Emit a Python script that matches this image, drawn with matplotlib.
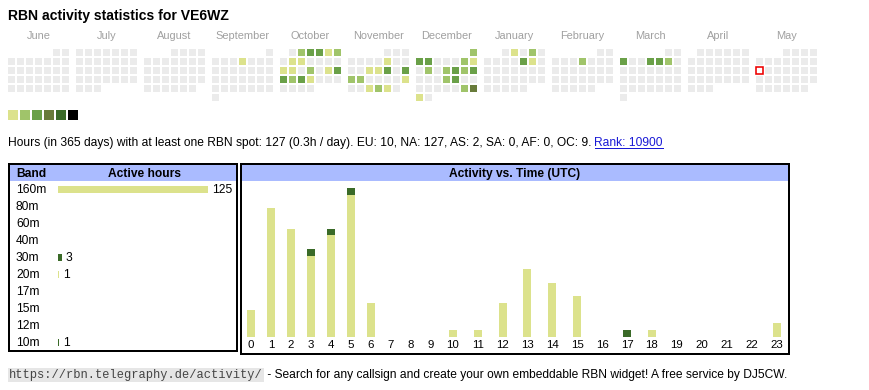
import calendar
import datetime as dt
import numpy as np
import matplotlib
matplotlib.use("Agg")
import matplotlib.pyplot as plt
from matplotlib.patches import Rectangle

plt.rcParams['font.family'] = ['Liberation Sans', 'DejaVu Sans']

W, H = 870, 390
PT = 0.72   # points per pixel at dpi 100

# ---- data -------------------------------------------------------------
callsign = "VE6WZ"
first_year, first_month = 2024, 6
months = ["June", "July", "August", "September", "October", "November",
          "December", "January", "February", "March", "April", "May"]
today = dt.date(2025, 5, 12)

# days with activity and their colour level (1..6)
active_days = [
    "2024-09-05",
    "2024-10-02", "2024-10-03", "2024-10-04", "2024-10-05", "2024-10-06",
    "2024-10-08", "2024-10-09", "2024-10-14", "2024-10-15", "2024-10-17",
    "2024-10-19", "2024-10-20", "2024-10-21", "2024-10-22", "2024-10-23",
    "2024-10-24",
    "2024-11-08", "2024-11-13", "2024-11-14", "2024-11-15", "2024-11-17",
    "2024-11-18", "2024-11-19", "2024-11-24", "2024-11-27", "2024-11-28",
    "2024-11-29",
    "2024-12-01", "2024-12-02", "2024-12-03", "2024-12-07", "2024-12-08",
    "2024-12-10", "2024-12-12", "2024-12-13", "2024-12-14", "2024-12-15",
    "2024-12-19", "2024-12-20", "2024-12-28", "2024-12-29", "2024-12-30",
    "2025-01-02", "2025-01-04", "2025-01-10", "2025-01-11",
    "2025-02-06",
    "2025-03-03", "2025-03-06", "2025-03-07", "2025-03-08",
]
active_levels = [
    1,
    2, 3, 3, 1, 2,
    1, 1, 1, 1, 2,
    1, 3, 3, 2, 3,
    1,
    1, 1, 1, 3, 3,
    2, 2, 1, 1, 2,
    1,
    2, 3, 3, 2, 1,
    2, 2, 3, 2, 3,
    2, 3, 2, 4, 1,
    1, 2, 3, 1,
    2,
    3, 3, 3, 2,
]
level_colors = ["#dce28c", "#a0c46a", "#6aa048", "#687b3a", "#3a6a28", "#000000"]

days_window = 365
total_hours = 127
continents = ["EU", "NA", "AS", "SA", "AF", "OC"]
continent_hours = [10, 127, 2, 0, 0, 9]
rank = 10900

bands = ["160m", "80m", "60m", "40m", "30m", "20m", "17m", "15m", "12m", "10m"]
band_hours = [125, 0, 0, 0, 3, 1, 0, 0, 0, 1]
band_colors = ["#dce28c", "#a0c46a", "#6aa048", "#687b3a", "#3a6a28",
               "#dce28c", "#a0c46a", "#6aa048", "#687b3a", "#3a6a28"]

hours = list(range(24))
hours_160m = [4, 19, 16, 12, 15, 21, 5, 0, 0, 0, 1, 1, 5, 10, 8, 6, 0, 0, 0, 0, 0, 0, 0, 2]
hours_30m = [0, 0, 0, 1, 1, 1, 0, 0, 0, 0, 0, 0, 0, 0, 0, 0, 0, 0, 0, 0, 0, 0, 0, 0]
hours_20m = [0, 0, 0, 0, 0, 0, 0, 0, 0, 0, 0, 0, 0, 0, 0, 0, 0, 0, 1, 0, 0, 0, 0, 0]
hours_10m = [0, 0, 0, 0, 0, 0, 0, 0, 0, 0, 0, 0, 0, 0, 0, 0, 0, 1, 0, 0, 0, 0, 0, 0]
hourly = {"160m": hours_160m, "30m": hours_30m, "20m": hours_20m, "10m": hours_10m}

url = "https://rbn.telegraphy.de/activity/"
footer = " - Search for any callsign and create your own embeddable RBN widget! A free service by DJ5CW."

# ---- figure -----------------------------------------------------------
fig = plt.figure(figsize=(W / 100, H / 100), dpi=100)
base = fig.add_axes([0, 0, 1, 1])
base.set_xlim(0, W)
base.set_ylim(H, 0)
base.axis('off')


def px_axes(x0, y0, x1, y1):
    ax = fig.add_axes([x0 / W, 1 - y1 / H, (x1 - x0) / W, (y1 - y0) / H])
    ax.patch.set_visible(False)
    for s in ax.spines.values():
        s.set_visible(False)
    return ax


base.text(8, 20, f"RBN activity statistics for {callsign}", fontsize=14 * PT,
          fontweight='bold', va='baseline')

# calendar
levels = {dt.date.fromisoformat(d): l for d, l in zip(active_days, active_levels)}
cell, step = 7, 9
for i, name in enumerate(months):
    yr = first_year + (first_month - 1 + i) // 12
    mo = (first_month - 1 + i) % 12 + 1
    x0 = 8 + 68 * i
    base.text(x0 + 30.5, 39, name, ha='center', va='baseline',
              fontsize=11 * PT, color='#a0a0a0')
    wd0 = dt.date(yr, mo, 1).weekday()
    for d in range(1, calendar.monthrange(yr, mo)[1] + 1):
        day = dt.date(yr, mo, d)
        row, col = divmod(wd0 + d - 1, 7)
        x, y = x0 + step * col, 49 + step * row
        if day == today:
            base.add_patch(Rectangle((x - 0.2, y - 0.2), cell + 0.4, cell + 0.4,
                                     fc='white', ec='#ee0000', lw=1.6 * PT))
            continue
        c = level_colors[levels[day] - 1] if day in levels else '#ebebeb'
        base.add_patch(Rectangle((x, y), cell, cell, fc=c, ec='none'))

for k, c in enumerate(level_colors):
    base.add_patch(Rectangle((8 + 12 * k, 110), 10, 10, fc=c, ec='none'))

# summary line
fs = 12 * PT
cont = ", ".join(f"{c}: {h}" for c, h in zip(continents, continent_hours))
info = base.text(8, 146, f"Hours (in {days_window} days) with at least one RBN spot: "
                 f"{total_hours} ({total_hours / days_window:.1f}h / day). {cont}.",
                 fontsize=fs, va='baseline')
url_t = base.text(9, 378, url, family='Liberation Mono', fontsize=12 * PT,
                  color='#444444', va='baseline',
                  bbox=dict(fc='#e6e6e6', ec='none', pad=1.0))

fig.canvas.draw()
inv = base.transData.inverted()
x_info = inv.transform(info.get_window_extent().get_points())[1, 0]
link = base.text(x_info + 3, 146, f"Rank: {rank}", fontsize=fs,
                 va='baseline', color='#1a1ad6')
x_url = inv.transform(url_t.get_window_extent().get_points())[1, 0]
base.text(x_url + 1, 378, footer, fontsize=12 * PT, va='baseline')
fig.canvas.draw()
lb = inv.transform(link.get_window_extent().get_points())
base.plot([lb[0, 0], lb[1, 0]], [147.6, 147.6], color='#1a1ad6', lw=1 * PT)

# table frames
base.add_patch(Rectangle((9, 164.3), 228, 187, fill=False, ec='black', lw=2 * PT))
base.add_patch(Rectangle((10, 165.3), 226, 15.4, fc='#aabbff', ec='none'))
base.text(16, 177, "Band", fontsize=12 * PT, fontweight='bold', va='baseline')
base.text(145, 177, "Active hours", fontsize=12 * PT, fontweight='bold',
          va='baseline', ha='center')
base.add_patch(Rectangle((241, 164.3), 548, 189.4, fill=False, ec='black', lw=2 * PT))
base.add_patch(Rectangle((242, 165.3), 546, 15.7, fc='#aabbff', ec='none'))
base.text(514.5, 177, "Activity vs. Time (UTC)", fontsize=12 * PT,
          fontweight='bold', va='baseline', ha='center')

# band bars
row_top, row_h = 180.5, 17
for i, b in enumerate(bands):
    base.text(16, row_top + row_h * (i + 0.5) + 4, b, fontsize=12 * PT, va='baseline')
axb = px_axes(58, row_top, 208, row_top + row_h * len(bands))
axb.barh(range(len(bands)), band_hours, height=7 / row_h, color=band_colors)
axb.set_xlim(0, max(band_hours))
axb.set_ylim(len(bands) - 0.5, -0.5)
axb.set_xticks([])
axb.set_yticks([])
for i, v in enumerate(band_hours):
    if v:
        axb.annotate(str(v), xy=(v, i), xytext=(2.6, -4 * PT),
                     textcoords='offset points', va='baseline',
                     fontsize=12 * PT, annotation_clip=False)

# activity vs time
col_w = np.array([15 + 5 * len(str(h)) for h in hours], dtype=float)
centers = np.cumsum(col_w) - col_w / 2
totals = np.sum([hourly[b] for b in hourly], axis=0)
axh = px_axes(241, 188, 789, 337)
bottom = np.zeros(len(hours))
for b, c in zip(bands, band_colors):
    if b in hourly:
        vals = np.array(hourly[b])
        axh.bar(centers, vals, width=8, bottom=bottom, color=c)
        bottom += vals
axh.set_xlim(0, col_w.sum())
axh.set_ylim(0, totals.max())
axh.set_yticks([])
axh.set_xticks(centers)
axh.set_xticklabels([str(h) for h in hours])
axh.tick_params(axis='x', length=0, pad=1.8, labelsize=11.5 * PT)

fig.savefig("out.png", dpi=100)
